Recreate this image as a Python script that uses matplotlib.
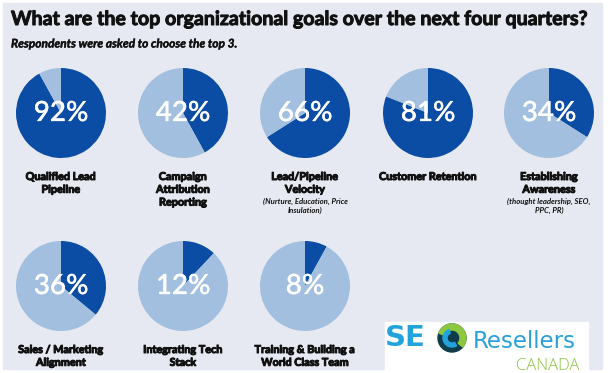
import matplotlib.pyplot as plt
import matplotlib.patheffects as pe
from matplotlib.patches import Rectangle, Circle, Wedge

# data
goals = ['Qualified Lead\nPipeline', 'Campaign\nAttribution\nReporting',
         'Lead/Pipeline\nVelocity', 'Customer Retention',
         'Establishing\nAwareness', 'Sales / Marketing\nAlignment',
         'Integrating Tech\nStack', 'Training & Building a\nWorld Class Team']
notes = ['', '', '(Nurture, Education, Price\nInsulation)', '',
         '(thought leadership, SEO,\nPPC, PR)', '', '', '']
pct = [92, 42, 66, 81, 34, 36, 12, 8]

# layout (pixels, from top-left)
W, H = 608, 373
cx = [61, 183, 305, 428, 549, 61, 183, 305]
cy = [113, 113, 113, 113, 113, 286, 286, 286]
R = 45

dark = '#0b4ca4'
light = '#a2bfdf'
bg = '#e6e9f1'
ink = '#111111'

fig = plt.figure(figsize=(W / 100, H / 100), dpi=100)
fig.patch.set_facecolor('white')
base = fig.add_axes([0, 0, 1, 1])
base.set_xlim(0, W)
base.set_ylim(H, 0)
base.axis('off')
base.add_patch(Rectangle((3, 3), 599, 366, color=bg, zorder=0))

base.text(11, 19, 'What are the top organizational goals over the next four quarters?',
          family='Lato', weight='bold', fontsize=14.1, color=ink, va='center',
          path_effects=[pe.withStroke(linewidth=0.7, foreground=ink)])
base.text(11, 44, 'Respondents were asked to choose the top 3.',
          family='Lato', weight='bold', style='italic', fontsize=8.6, color=ink,
          va='center', path_effects=[pe.withStroke(linewidth=0.3, foreground=ink)])

for i in range(len(pct)):
    ax = fig.add_axes([(cx[i] - R) / W, 1 - (cy[i] + R) / H, 2 * R / W, 2 * R / H])
    ax.pie([pct[i], 100 - pct[i]], colors=[dark, light], startangle=90,
           counterclock=False, radius=1)
    ax.set_xlim(-1, 1)
    ax.set_ylim(-1, 1)
    ax.set_aspect('auto')
    ax.text(0, 0, str(pct[i]) + '%', ha='center', va='center', color='white',
            family='Lato', weight='medium', fontsize=20,
            path_effects=[pe.withStroke(linewidth=0.2, foreground='white')])
    ly = cy[i] + R + 13
    base.text(cx[i], ly, goals[i], ha='center', va='top', family='Lato',
              weight='bold', fontsize=7.8, color=ink, linespacing=1.2,
              path_effects=[pe.withStroke(linewidth=0.7, foreground=ink)])
    if notes[i]:
        nl = goals[i].count('\n') + 1
        base.text(cx[i], ly + 12.5 * nl + 2, notes[i], ha='center', va='top',
                  family='Lato', weight='bold', style='italic', fontsize=5.6,
                  color=ink, linespacing=1.2)

# logo
base.add_patch(Rectangle((385, 322), 203, 51, color='white', zorder=2))
base.text(385, 338, 'SE', family='DejaVu Sans', weight='bold', fontsize=21,
          color='#21a3dd', va='center', zorder=3)
base.add_patch(Circle((452, 338), 14, color='#0f3c4a', zorder=3))
base.add_patch(Wedge((452, 338), 14, 200, 40, width=6, color='#8dc63f', zorder=4))
base.add_patch(Wedge((452, 338), 9, 60, 250, width=4, color='#21a3dd', zorder=4))
base.text(473, 341, 'Resellers', family='DejaVu Sans', fontsize=16.5,
          color='#2a9fd9', va='center', zorder=3)
base.text(516, 366, 'CANADA', family='Open Sans', weight='light', fontsize=12,
          color='#8dc63f', va='center', zorder=3)

fig.savefig('out.png', dpi=100, facecolor=fig.get_facecolor())
